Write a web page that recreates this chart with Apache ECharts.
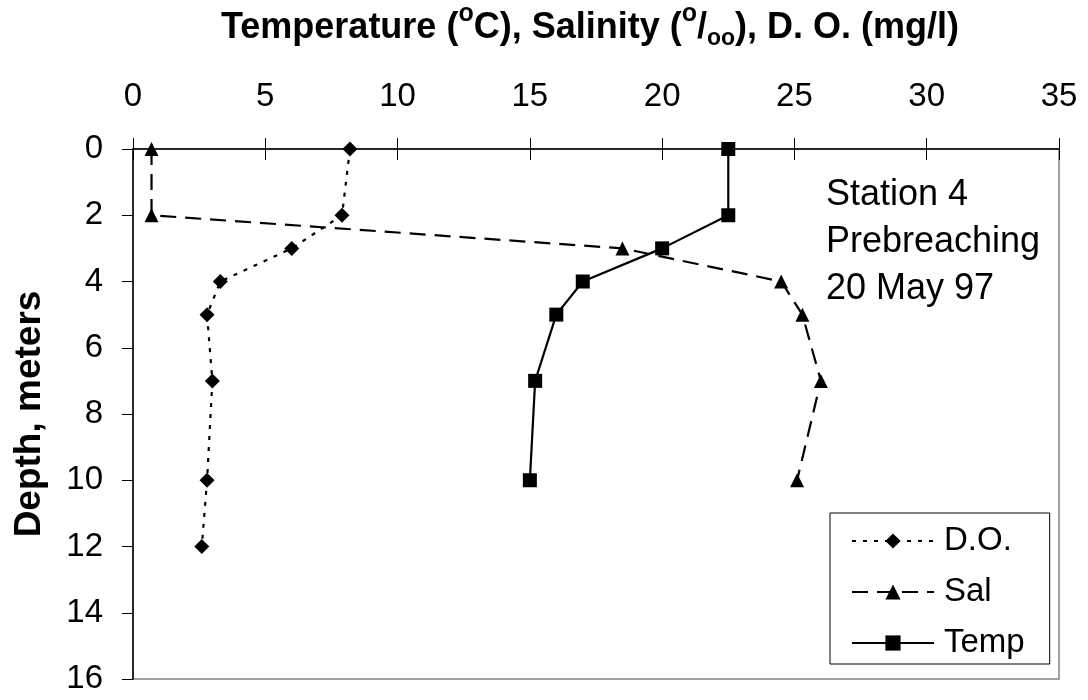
<!DOCTYPE html>
<html><head><meta charset="utf-8">
<script src="https://cdn.jsdelivr.net/npm/echarts@6/dist/echarts.min.js"></script>
<style>html,body{margin:0;padding:0;background:#fff}#c{width:1088px;height:700px}</style>
</head><body><div id="c"></div>
<script>
const xTicks = [0, 5, 10, 15, 20, 25, 30, 35];
const yTicks = [0, 2, 4, 6, 8, 10, 12, 14, 16];
const depthDO = [0, 2, 3, 4, 5, 7, 10, 12];
const doVals = [8.2, 7.9, 6.0, 3.3, 2.8, 3.0, 2.8, 2.6];
const depthSal = [0, 2, 3, 4, 5, 7, 10];
const salVals = [0.7, 0.7, 18.5, 24.5, 25.3, 26.0, 25.1];
const depthTemp = [0, 2, 3, 4, 5, 7, 10];
const tempVals = [22.5, 22.5, 20.0, 17.0, 16.0, 15.2, 15.0];
const seriesNames = ['D.O.', 'Sal', 'Temp'];
const noteLines = ['Station 4', 'Prebreaching', '20 May 97'];

const FF = '"Liberation Sans", Arial, sans-serif';
const pairs = (xs, ds) => xs.map((v, i) => [v, ds[i]]);
const chart = echarts.init(document.getElementById('c'));
chart.setOption({
  animation: false,
  textStyle: { fontFamily: FF, color: '#000' },
  title: {
    text: '{b|Temperature (}{s|o}{b|C), Salinity (}{s|o}{b|/}{u|oo}{b|), D. O. (mg/l)}',
    left: 590, top: 6, textAlign: 'center', padding: 0,
    textStyle: {
      rich: {
        b: { fontFamily: FF, fontWeight: 'bold', fontSize: 36, color: '#000', lineHeight: 44, verticalAlign: 'middle' },
        s: { fontFamily: FF, fontWeight: 'bold', fontSize: 25, color: '#000', lineHeight: 10, verticalAlign: 'middle', padding: [0, 0, 28, 0] },
        u: { fontFamily: FF, fontWeight: 'bold', fontSize: 23, color: '#000', lineHeight: 14, verticalAlign: 'bottom' }
      }
    }
  },
  grid: { left: 133, right: 29, top: 149, bottom: 21, show: true, borderColor: '#808080', borderWidth: 1.5, backgroundColor: '#fff' },
  xAxis: [{
    type: 'value', position: 'top', min: 0, max: 35, interval: 5,
    axisLine: { show: true, lineStyle: { color: '#000', width: 1.5 } },
    axisTick: { show: true, inside: false, length: 11, lineStyle: { color: '#000' } },
    axisLabel: { fontSize: 33, lineHeight: 33, color: '#000', fontFamily: FF, margin: 36,
      formatter: v => xTicks.includes(v) ? String(v) : '' },
    splitLine: { show: false }
  }, {
    type: 'value', position: 'top', min: 0, max: 35, interval: 5,
    axisLine: { show: false },
    axisTick: { show: true, inside: true, length: 11, lineStyle: { color: '#000' } },
    axisLabel: { show: false }, splitLine: { show: false }
  }],
  yAxis: {
    type: 'value', inverse: true, min: 0, max: 16, interval: 2,
    name: 'Depth, meters', nameLocation: 'middle', nameGap: 85, nameRotate: 90,
    nameTextStyle: { fontSize: 37, fontWeight: 'bold', color: '#000', fontFamily: FF },
    axisLine: { show: true, lineStyle: { color: '#000', width: 1.5 } },
    axisTick: { show: true, length: 11, lineStyle: { color: '#000' } },
    axisLabel: { fontSize: 33, color: '#000', fontFamily: FF, margin: 30,
      formatter: v => yTicks.includes(v) ? String(v) : '' },
    splitLine: { show: false }
  },
  legend: {
    orient: 'vertical', left: 830, top: 513,
    backgroundColor: '#fff', borderColor: '#000', borderWidth: 1,
    padding: [11, 25, 4, 21], itemGap: 17, itemWidth: 82, itemHeight: 19,
    textStyle: { fontSize: 33, lineHeight: 34, color: '#000', fontFamily: FF, padding: [0, 0, 0, 5] },
    data: seriesNames
  },
  graphic: [{
    type: 'text', left: 826, top: 172,
    style: { text: noteLines.join('\n'), fontSize: 36, lineHeight: 47, fill: '#000', fontFamily: FF }
  }],
  series: [{
    name: seriesNames[0], type: 'line', data: pairs(doVals, depthDO),
    symbol: 'diamond', symbolSize: 15, color: '#000',
    lineStyle: { color: '#000', width: 2.2, type: [4, 7] },
    itemStyle: { color: '#000' }
  }, {
    name: seriesNames[1], type: 'line', data: pairs(salVals, depthSal),
    symbol: 'triangle', symbolSize: 14, color: '#000',
    lineStyle: { color: '#000', width: 2.2, type: [16, 9] },
    itemStyle: { color: '#000' }
  }, {
    name: seriesNames[2], type: 'line', data: pairs(tempVals, depthTemp),
    symbol: 'rect', symbolSize: 14, color: '#000',
    lineStyle: { color: '#000', width: 2.2, type: 'solid' },
    itemStyle: { color: '#000' }
  }]
});
</script></body></html>
